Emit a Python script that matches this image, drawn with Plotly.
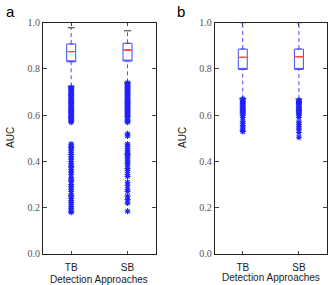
import plotly.graph_objects as go

categories = ["TB", "SB"]
positions = [1, 2]

# Panel a box statistics
a_q1 = [0.831, 0.834]
a_med = [0.875, 0.882]
a_q3 = [0.908, 0.911]
a_low = [0.725, 0.742]
a_up = [0.978, 0.965]
a_out_tb = [0.570, 0.575, 0.580, 0.585, 0.590, 0.595, 0.600, 0.605, 0.610, 0.615, 0.620, 0.625,
            0.630, 0.635, 0.640, 0.645, 0.650, 0.655, 0.660, 0.665, 0.670, 0.675, 0.680, 0.685,
            0.690, 0.695, 0.700, 0.705, 0.710, 0.715, 0.720,
            0.475, 0.465, 0.460, 0.450, 0.440, 0.430, 0.420, 0.410, 0.400, 0.390, 0.380, 0.375,
            0.365, 0.355, 0.345, 0.330, 0.320, 0.315, 0.300, 0.290, 0.280, 0.270, 0.255, 0.250,
            0.240, 0.230, 0.225, 0.215, 0.205, 0.195, 0.185, 0.180]
a_out_sb = [0.570, 0.575, 0.580, 0.590, 0.595, 0.600, 0.605, 0.610, 0.615, 0.620, 0.625, 0.630,
            0.635, 0.640, 0.645, 0.650, 0.655, 0.660, 0.665, 0.670, 0.675, 0.680, 0.685, 0.690,
            0.695, 0.700, 0.705, 0.710, 0.715, 0.720, 0.725, 0.730, 0.735, 0.740,
            0.520, 0.510, 0.475,
            0.465, 0.455, 0.445, 0.435, 0.430, 0.425, 0.415, 0.405, 0.395, 0.385, 0.370, 0.360,
            0.345, 0.335, 0.310, 0.295, 0.280, 0.270, 0.250, 0.235, 0.220, 0.185]

# Panel b box statistics
b_q1 = [0.798, 0.798]
b_med = [0.850, 0.853]
b_q3 = [0.886, 0.886]
b_low = [0.672, 0.670]
b_up = [1.0, 1.0]
b_out_tb = [0.600, 0.605, 0.610, 0.615, 0.620, 0.625, 0.630, 0.635, 0.640, 0.645, 0.650, 0.655,
            0.660, 0.665, 0.670, 0.590, 0.575, 0.565, 0.555, 0.545, 0.535, 0.530]
b_out_sb = [0.600, 0.605, 0.610, 0.615, 0.620, 0.625, 0.630, 0.635, 0.640, 0.645, 0.650, 0.655,
            0.660, 0.665, 0.590, 0.570, 0.560, 0.550, 0.540, 0.525, 0.505]

BLUE = "#2020ff"
WHISK = "#4a4aff"
RED = "#ff4a4a"
BOXW = 0.16

fig = go.Figure()

def add_panel(xa, ya, q1, med, q3, low, up, outs):
    for i, p in enumerate(positions):
        # whiskers (dashed)
        fig.add_trace(go.Scatter(x=[p, p], y=[q3[i], up[i]], mode="lines",
                                 line=dict(color=WHISK, dash="4px,3px", width=1),
                                 xaxis=xa, yaxis=ya, showlegend=False, hoverinfo="skip"))
        fig.add_trace(go.Scatter(x=[p, p], y=[low[i], q1[i]], mode="lines",
                                 line=dict(color=WHISK, dash="4px,3px", width=1),
                                 xaxis=xa, yaxis=ya, showlegend=False, hoverinfo="skip"))
        # caps
        fig.add_trace(go.Scatter(x=[p, p], y=[up[i], low[i]], mode="markers",
                                 marker=dict(symbol="line-ew", size=5, color="#333",
                                             line=dict(color="#333", width=1)),
                                 xaxis=xa, yaxis=ya, showlegend=False, hoverinfo="skip"))
        # outliers
        fig.add_trace(go.Scatter(x=[p] * len(outs[i]), y=outs[i], mode="markers",
                                 marker=dict(symbol="asterisk-open", size=5, color=BLUE,
                                             line=dict(color=BLUE, width=1.1)),
                                 xaxis=xa, yaxis=ya, showlegend=False, hoverinfo="skip"))
    # box
    fig.add_trace(go.Box(x=positions, q1=q1, median=q1, q3=q3, lowerfence=q1, upperfence=q3,
                         width=BOXW, fillcolor="rgba(255,255,255,0)",
                         line=dict(color=WHISK, width=1), xaxis=xa, yaxis=ya,
                         showlegend=False, hoverinfo="skip"))
    # median line in red
    fig.add_trace(go.Box(x=positions, q1=med, median=med, q3=med, lowerfence=med, upperfence=med,
                         width=BOXW, fillcolor="rgba(255,255,255,0)",
                         line=dict(color=RED, width=1), xaxis=xa, yaxis=ya,
                         showlegend=False, hoverinfo="skip"))

add_panel("x", "y", a_q1, a_med, a_q3, a_low, a_up, [a_out_tb, a_out_sb])
add_panel("x2", "y2", b_q1, b_med, b_q3, b_low, b_up, [b_out_tb, b_out_sb])

ytick = dict(tickvals=[0, 0.2, 0.4, 0.6, 0.8, 1.0], ticktext=["0.0", "0.2", "0.4", "0.6", "0.8", "1.0"],
             range=[0, 1.0], ticks="inside", ticklen=4, mirror="ticks", showline=True,
             linecolor="#222", linewidth=1, showgrid=False, zeroline=False, automargin=False,
             tickfont=dict(family="Liberation Serif", size=10, color="#555"))
xtick = dict(tickvals=positions, ticktext=categories, range=[0.5, 2.5], ticks="inside", ticklen=3,
             mirror="ticks", showline=True, linecolor="#222", linewidth=1, showgrid=False,
             zeroline=False, automargin=False, tickfont=dict(family="Liberation Sans", size=10, color="#222"),
             ticklabelstandoff=4)

title_font = dict(family="Liberation Sans", size=10, color="#222")

fig.update_layout(
    width=329, height=285, margin=dict(l=0, r=0, t=0, b=0, autoexpand=False),
    paper_bgcolor="white", plot_bgcolor="white",
    xaxis=dict(domain=[0.1307, 0.4733], anchor="y", **xtick),
    yaxis=dict(domain=[0.1088, 0.9204], anchor="x", **ytick),
    xaxis2=dict(domain=[0.6526, 0.9939], anchor="y2", **xtick),
    yaxis2=dict(domain=[0.1088, 0.9204], anchor="x2", **ytick),
    annotations=[
        dict(text="a", x=4 / 329, y=1 - 11 / 285, xref="paper", yref="paper", showarrow=False,
             xanchor="left", yanchor="middle", font=dict(family="Liberation Sans", size=15, color="black")),
        dict(text="b", x=175 / 329, y=1 - 11 / 285, xref="paper", yref="paper", showarrow=False,
             xanchor="left", yanchor="middle", font=dict(family="Liberation Sans", size=15, color="black")),
        dict(text="Detection Approaches", x=99 / 329, y=1 - 279 / 285, xref="paper", yref="paper",
             showarrow=False, xanchor="center", yanchor="middle", font=title_font),
        dict(text="Detection Approaches", x=271 / 329, y=1 - 277 / 285, xref="paper", yref="paper",
             showarrow=False, xanchor="center", yanchor="middle", font=title_font),
        dict(text="AUC", x=10 / 329, y=1 - 138 / 285, xref="paper", yref="paper", textangle=-90,
             showarrow=False, xanchor="center", yanchor="middle", font=title_font),
        dict(text="AUC", x=182 / 329, y=1 - 138 / 285, xref="paper", yref="paper", textangle=-90,
             showarrow=False, xanchor="center", yanchor="middle", font=title_font),
    ],
)

fig.write_html("out.html")
